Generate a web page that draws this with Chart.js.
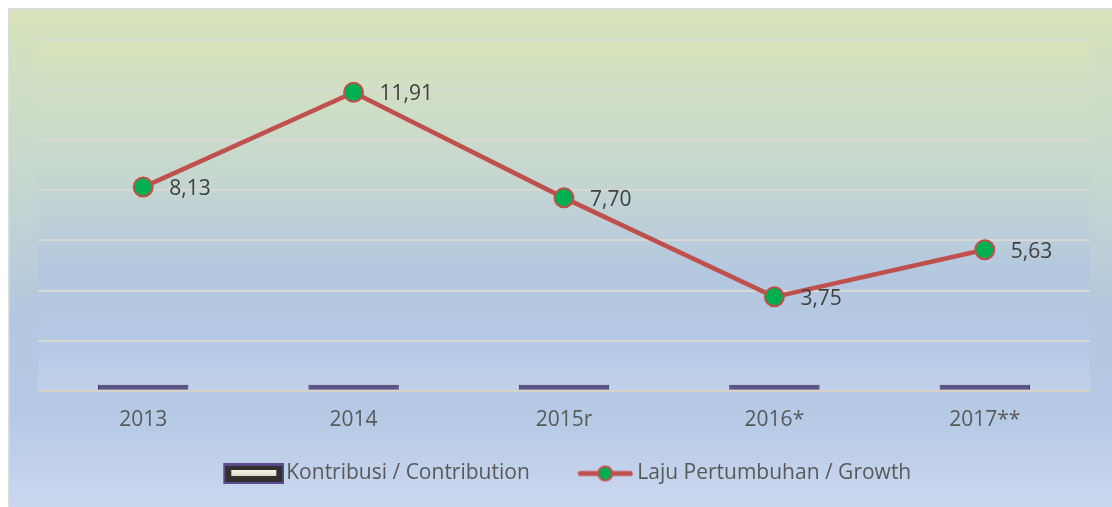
<!DOCTYPE html>
<html>
<head>
<meta charset="utf-8">
<script src="https://cdn.jsdelivr.net/npm/chart.js@4.4.1/dist/chart.umd.min.js"></script>
<style>
  html, body { margin: 0; padding: 0; background: #ffffff; }
  #wrap { position: relative; width: 1112px; height: 507px; }
</style>
</head>
<body>
<div id="wrap"><canvas id="c" width="1112" height="507"></canvas></div>
<script>
// ---- data ----
const categories = ['2013', '2014', '2015r', '2016*', '2017**'];
const contribution = [0.24, 0.24, 0.24, 0.24, 0.24];
const growth = [8.13, 11.91, 7.70, 3.75, 5.63];
const seriesNames = ['Kontribusi / Contribution', 'Laju Pertumbuhan / Growth'];
const yTicks = [0, 2, 4, 6, 8, 10, 12, 14];

const FONT = "'Open Sans', 'Liberation Sans', sans-serif";

function addStops(g) {
  g.addColorStop(0, '#d7e4bc');
  g.addColorStop(0.35, '#c6d7cf');
  g.addColorStop(0.62, '#b3c7e0');
  g.addColorStop(0.82, '#b6cae5');
  g.addColorStop(1, '#cbd7ef');
  return g;
}

// legend marker images (transparent margin positions the visible glyph)
function barMarker() {
  const c = document.createElement('canvas');
  c.width = 104; c.height = 21;
  const x = c.getContext('2d');
  const o = 43;
  x.fillStyle = '#5a4c8c'; x.fillRect(o, 0, 61, 21);
  x.fillStyle = '#33312f'; x.fillRect(o + 2, 3, 57, 16);
  const g = x.createLinearGradient(0, 7, 0, 14);
  g.addColorStop(0, '#f4f3e6'); g.addColorStop(1, '#d6d4c2');
  x.fillStyle = g; x.fillRect(o + 8, 7, 45, 6);
  return c;
}
function lineMarker() {
  const c = document.createElement('canvas');
  c.width = 100; c.height = 20;
  const x = c.getContext('2d');
  const o = 44;
  x.strokeStyle = '#c0504d'; x.lineWidth = 5; x.lineCap = 'round';
  x.beginPath(); x.moveTo(o + 3, 10); x.lineTo(o + 53, 10); x.stroke();
  x.beginPath(); x.arc(o + 28, 10, 7, 0, Math.PI * 2);
  x.fillStyle = '#00b050'; x.fill();
  x.lineWidth = 2; x.strokeStyle = '#c0504d'; x.stroke();
  return c;
}
const markers = [barMarker(), lineMarker()];

const bgPlugin = {
  id: 'bg',
  afterLayout(chart) {
    const lg = chart.legend;
    if (lg) {
      lg.top += 3; lg.bottom += 3;
      lg.left -= 14; lg.right -= 14;
    }
  },
  beforeDraw(chart) {
    const ctx = chart.ctx;
    const W = chart.width, H = chart.height;
    ctx.save();
    const g = addStops(ctx.createLinearGradient(0, 9, 0, H));
    ctx.fillStyle = g;
    ctx.fillRect(9, 9, W - 9, H - 9);
    ctx.strokeStyle = '#d4d4d4';
    ctx.lineWidth = 1.5;
    ctx.beginPath();
    ctx.moveTo(9, H); ctx.lineTo(9, 9); ctx.lineTo(W, 9);
    ctx.stroke();
    const a = chart.chartArea;
    const g2 = addStops(ctx.createLinearGradient(0, a.top, 0, a.bottom + 30));
    ctx.fillStyle = g2;
    ctx.fillRect(a.left, a.top, a.right - a.left, a.bottom - a.top);
    ctx.restore();
  }
};

const labelPlugin = {
  id: 'dlabels',
  afterDatasetsDraw(chart) {
    const ctx = chart.ctx;
    const meta = chart.getDatasetMeta(1);
    ctx.save();
    ctx.font = '21px ' + FONT;
    ctx.fillStyle = '#404040';
    ctx.textAlign = 'left';
    ctx.textBaseline = 'middle';
    meta.data.forEach((pt, i) => {
      const v = chart.data.datasets[1].data[i];
      ctx.fillText(v.toFixed(2).replace('.', ','), pt.x + 26, pt.y + 2);
    });
    ctx.restore();
  }
};

new Chart(document.getElementById('c'), {
  type: 'bar',
  data: {
    labels: categories,
    datasets: [
      {
        type: 'bar',
        label: seriesNames[0],
        data: contribution,
        backgroundColor: '#5d5386',
        borderColor: '#3a3460',
        borderWidth: 1,
        barPercentage: 0.43,
        categoryPercentage: 1,
        order: 2
      },
      {
        type: 'line',
        label: seriesNames[1],
        data: growth,
        borderColor: '#c0504d',
        borderWidth: 4.5,
        pointStyle: 'circle',
        pointRadius: 9.5,
        pointBackgroundColor: '#00b050',
        pointBorderColor: '#c0504d',
        pointBorderWidth: 2,
        tension: 0,
        order: 1
      }
    ]
  },
  options: {
    responsive: false,
    animation: false,
    events: [],
    layout: { padding: { left: 38, right: 22, top: 40, bottom: 16 } },
    scales: {
      x: {
        grid: { display: false, drawTicks: false },
        border: { display: true, color: '#d6d3c6', width: 2 },
        ticks: { color: '#595959', font: { family: FONT, size: 21 }, padding: 17 }
      },
      y: {
        min: 0, max: 14,
        afterBuildTicks(scale) { scale.ticks = yTicks.map(v => ({ value: v })); },
        ticks: { display: false },
        grid: { color: '#d8d8d4', lineWidth: 2, drawTicks: false },
        border: { display: false },
        afterFit(scale) { scale.width = 0; }
      }
    },
    plugins: {
      tooltip: { enabled: false },
      legend: {
        position: 'bottom',
        labels: {
          usePointStyle: true,
          pointStyleWidth: 87,
          boxHeight: 21,
          padding: 10,
          color: '#595959',
          font: { family: FONT, size: 21 },
          sort: (a, b) => a.datasetIndex - b.datasetIndex,
          generateLabels(chart) {
            const items = Chart.defaults.plugins.legend.labels.generateLabels(chart);
            items.forEach(it => { it.pointStyle = markers[it.datasetIndex]; });
            return items;
          }
        }
      }
    }
  },
  plugins: [bgPlugin, labelPlugin]
});
</script>
</body>
</html>
